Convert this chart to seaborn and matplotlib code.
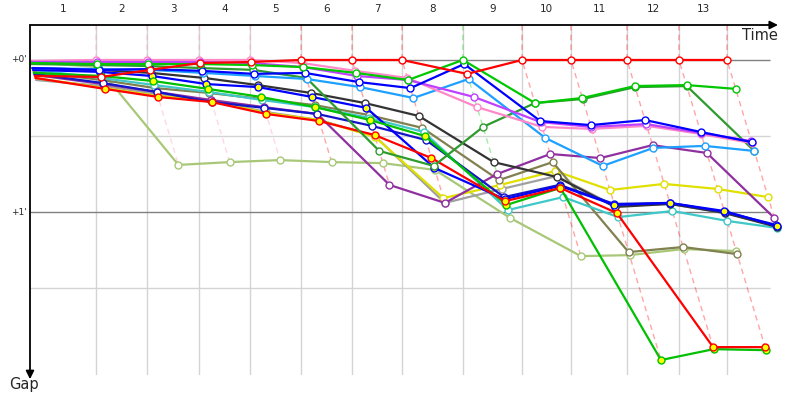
import matplotlib
matplotlib.use("Agg")
import pandas as pd
import matplotlib.pyplot as plt
import seaborn as sns

# leader's time at the end of each lap (s), lap 0 = start
leader_times = [0, 86.8, 153.9, 222.4, 289.5, 356.6, 423.7, 489.5, 569.7,
                647.4, 711.8, 785.5, 853.9, 917.1]
lap_labels = [str(i) for i in range(1, 14)]

# gap to the leader at each lap (s)
gap_pink = [0.4, 0, 0, 0, 0, 1.2, 4.3, 7.1, 18.6, 26.4, 27.2, 26.0, 29.2, 32.8]
gap_violet = [0.8, 0.8, 0.8, 0.8, 1.2, 2.8, 6.3, 7.9, 14.6, 24.5, 26.4, 25.3, 28.8, 32.0]
gap_blue = [3.2, 3.9, 3.6, 4.3, 5.5, 5.1, 8.7, 11.1, 1.6, 24.1, 25.7, 23.7, 28.4, 32.4]
gap_skyblue = [3.2, 3.6, 3.9, 5.1, 6.3, 7.5, 10.7, 15.0, 7.5, 30.8, 41.8, 34.7, 33.9, 35.9]
gap_green = [1.2, 1.6, 1.6, 1.6, 2.0, 2.8, 5.1, 7.9, 0, 17.0, 15.0, 10.3, 9.9, 11.4]
gap_darkgreen = [1.6, 2.0, 2.4, 3.2, 3.9, 7.1, 35.9, 41.8, 26.4, 17.0, 15.4, 10.7, 10.3, 35.9]
gap_black = [3.2, 3.9, 5.1, 7.1, 9.9, 13.0, 17.0, 22.1, 40.3, 46.2, 58.0, 56.8, 60.4, 65.9]
gap_blue_y = [3.9, 4.7, 6.3, 9.5, 10.7, 14.6, 18.9, 42.6, 54.9, 49.7, 57.2, 56.4, 59.6, 65.5]
gap_navy = [5.5, 9.1, 12.6, 16.6, 18.9, 21.3, 26.0, 31.6, 54.1, 49.3, 56.8, 56.4, 60.0, 65.1]
gap_red_y = [7.1, 11.4, 14.6, 16.6, 21.3, 24.1, 29.6, 38.7, 55.7, 50.5, 60.4, 113.3, 113.3]
gap_green_y = [5.1, 6.3, 8.3, 11.4, 14.6, 18.6, 23.7, 30.0, 57.2, 50.5, 118.4, 114.1, 114.5]
gap_cyan = [3.9, 7.1, 9.9, 12.6, 15.8, 18.6, 22.9, 28.4, 59.2, 54.1, 62.0, 59.6, 63.5, 66.3]
gap_olive = [4.7, 7.9, 11.1, 13.0, 15.4, 17.8, 21.7, 26.8, 47.4, 40.3, 75.8, 73.8, 76.6]
gap_purple = [5.9, 9.5, 12.6, 15.8, 18.6, 21.3, 49.3, 56.4, 45.0, 37.1, 38.7, 33.6, 36.7, 62.4]
gap_yellow = [7.1, 11.1, 14.2, 16.2, 20.9, 23.7, 30.4, 54.5, 49.3, 43.8, 51.3, 48.9, 50.9, 54.1]
gap_gray = [7.9, 10.3, 13.4, 15.8, 20.5, 23.7, 30.0, 56.4, 50.9, 45.8, 57.6, 56.8, 60.4, 65.5]
gap_lime = [0.8, 2.8, 41.4, 40.3, 39.5, 40.3, 40.7, 43.4, 62.4, 77.4, 77.0, 74.6, 75.4]
gap_red = [6.3, 6.7, 3.9, 1.2, 0.8, 0, 0, 0, 5.5, 0, 0, 0, 0, 0]

# name -> (gaps, line colour, marker fill)
cars = {
    "lime": (gap_lime, "#a8c878", "white"),
    "gray": (gap_gray, "#a0a0a0", "white"),
    "yellow": (gap_yellow, "#e0e000", "white"),
    "olive": (gap_olive, "#808050", "white"),
    "cyan": (gap_cyan, "#40c8c8", "white"),
    "purple": (gap_purple, "#9030a0", "white"),
    "black": (gap_black, "#333333", "white"),
    "navy": (gap_navy, "#1414c8", "white"),
    "blue_y": (gap_blue_y, "#0000ff", "#ffff00"),
    "green_y": (gap_green_y, "#00c000", "#ffff00"),
    "red_y": (gap_red_y, "#ff0000", "#ffff00"),
    "darkgreen": (gap_darkgreen, "#2e9b2e", "white"),
    "skyblue": (gap_skyblue, "#1ea0ff", "white"),
    "pink": (gap_pink, "#ff88c8", "white"),
    "violet": (gap_violet, "#c040ff", "white"),
    "blue": (gap_blue, "#0000ff", "white"),
    "green": (gap_green, "#00c800", "white"),
    "red": (gap_red, "#ff0000", "white"),
}

rows = []
for name, (gaps, _, _) in cars.items():
    for lap, g in enumerate(gaps):
        rows.append({"car": name, "lap": lap, "gap": g,
                     "time": leader_times[lap] + g})
df = pd.DataFrame(rows)

sns.set_style("white")
plt.rcParams["font.family"] = ["DejaVu Sans"]

fig = plt.figure(figsize=(8, 4), dpi=100)
ax = fig.add_axes([30 / 800, 25 / 400, 755 / 800, 350 / 400])
x_max = 993.4      # axes reach a bit past the grid
grid_end = 973.7
y_top, y_bot = -13.8, 124.3
ax.set_xlim(0, x_max)
ax.set_ylim(y_bot, y_top)

# grid: leader lap times and every half minute
for t in leader_times[1:]:
    ax.axvline(t, color="#d4d4d4", lw=1, zorder=0)
for g, c in [(0, "#808080"), (30, "#d4d4d4"), (60, "#808080"), (90, "#d4d4d4")]:
    ax.hlines(g, 0, grid_end, color=c, lw=1, zorder=0.5)

# lap lines: from the leader down to the last car of the lap
for lap in range(1, len(leader_times)):
    sub = df[df["lap"] == lap]
    leader = sub.loc[sub["gap"].idxmin(), "car"]
    gmax = sub["gap"].max()
    t = leader_times[lap]
    ax.plot([t, t, t + gmax], [y_top, 0, gmax], color=cars[leader][1],
            alpha=0.35, lw=1, ls=(0, (4, 3)), zorder=1)

for name, (gaps, col, fill) in cars.items():
    sns.lineplot(data=df[df["car"] == name], x="time", y="gap", ax=ax,
                 color=col, lw=1.6, marker="o", markersize=5,
                 markevery=list(range(1, len(gaps))),
                 markerfacecolor=fill, markeredgecolor=col,
                 markeredgewidth=1.0, estimator=None, sort=False, zorder=3)

ax.set_xlabel("")
ax.set_ylabel("")
ax.set_xticks([])
ax.set_yticks([])
for s in ax.spines.values():
    s.set_visible(False)

# axes with arrows
ax.annotate("", xy=(748 / 755, 1), xycoords="axes fraction", xytext=(0, 1),
            arrowprops=dict(arrowstyle="-|>", color="black", lw=1.3,
                            mutation_scale=12, shrinkA=0, shrinkB=0),
            annotation_clip=False)
ax.annotate("", xy=(0, -0.012), xycoords="axes fraction", xytext=(0, 1),
            arrowprops=dict(arrowstyle="-|>", color="black", lw=1.3,
                            mutation_scale=12, shrinkA=0, shrinkB=0),
            annotation_clip=False)

for i, lab in enumerate(lap_labels):
    mid = (leader_times[i] + leader_times[i + 1]) / 2
    ax.text(mid, y_top - 4.5, lab, ha="center", va="bottom", fontsize=7.5,
            clip_on=False)

for g, lab in [(0, "+0'"), (60, "+1'")]:
    ax.text(-4, g, lab, ha="right", va="center", fontsize=6.5, clip_on=False)

fig.text(760 / 800, 1 - 35 / 400, "Time", ha="center", va="center", fontsize=10.5)
fig.text(24 / 800, 1 - 385 / 400, "Gap", ha="center", va="center", fontsize=10.5)

fig.savefig("out.png", dpi=100)
plt.close(fig)
